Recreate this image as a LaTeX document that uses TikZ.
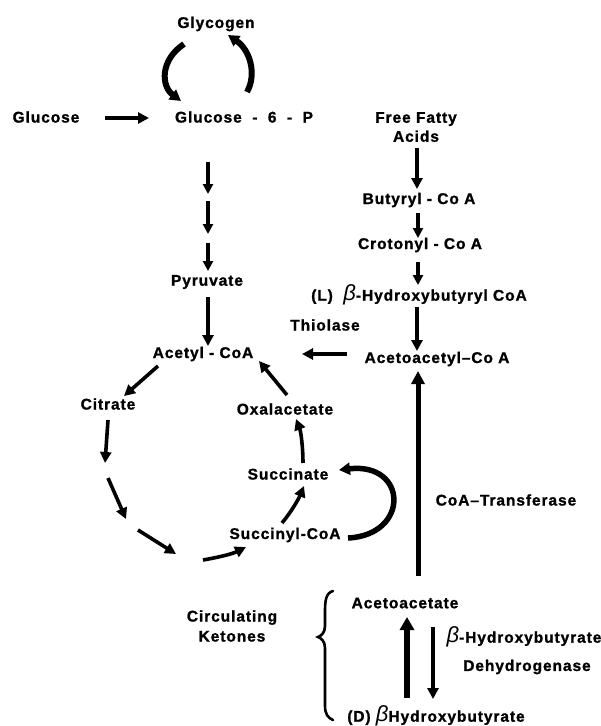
\documentclass[tikz,border=0pt]{standalone}
\usepackage{fontspec}
\setmainfont{Liberation Sans}[LetterSpace=6, BoldFeatures={FakeBold=1.2}]
\usetikzlibrary{arrows.meta}
\newcommand{\bigbeta}{{\fontsize{22}{22}\selectfont\itshape\mdseries β}}
\begin{document}
\begin{tikzpicture}[x=1pt,y=-1pt,
  lbl/.style={inner sep=0pt, font=\fontsize{15.5}{17}\selectfont\bfseries, align=center},
  arr/.style={line width=3.6pt, -{Triangle[length=11pt,width=11pt]}},
  arrthin/.style={line width=3.2pt, -{Triangle[length=10pt,width=10pt]}},
  arrbig/.style={line width=5pt, -{Triangle[length=13pt,width=13pt]}},
  curvy/.style={line width=6pt, -{Triangle[length=11pt,width=12pt]}},
  bracestyle/.style={line width=2.6pt, line cap=round}]
\useasboundingbox (0,0) rectangle (601,726);
% nodes
\node[lbl] (glycogen) at (216,24) {Glycogen};
\node[lbl] (glucose) at (46,117) {Glucose};
\node[lbl] (g6p) at (244,117) {Glucose\ \ -\ \ 6\ \ -\ \ P};
\node[lbl] (pyr) at (207,282) {Pyruvate};
\node[lbl] (acetyl) at (203,354) {Acetyl - CoA};
\node[lbl] (citrate) at (108,404) {Citrate};
\node[lbl] (oxal) at (285,409) {Oxalacetate};
\node[lbl] (succinate) at (288,474) {Succinate};
\node[lbl] (succinyl) at (285,535) {Succinyl-CoA};
\node[lbl] (ffa) at (416,127) {Free Fatty\\[2pt]Acids};
\node[lbl] (butyryl) at (419,200) {Butyryl - Co A};
\node[lbl] (crotonyl) at (420,245) {Crotonyl - Co A};
\node[lbl] (lhb) at (419,295) {(L)\ \ \bigbeta-Hydroxybutyryl CoA};
\node[lbl] (thiolase) at (325,325) {Thiolase};
\node[lbl] (acacoa) at (437,359) {Acetoacetyl–Co A};
\node[lbl] (coat) at (506,500) {CoA–Transferase};
\node[lbl] (circ) at (232,626) {Circulating\\[3pt]Ketones};
\node[lbl] (acac) at (405,603) {Acetoacetate};
\node[lbl] (bhbdh) at (524,637) {\bigbeta-Hydroxybutyrate};
\node[lbl] (dehyd) at (527,667) {Dehydrogenase};
\node[lbl] (dbhb) at (436,716) {(D) \bigbeta Hydroxybutyrate};
% connector end points
\coordinate (c1a) at (105,118); \coordinate (c1b) at (149,118);
\coordinate (gl1a) at (184,44); \coordinate (gl1b) at (181,101);
\coordinate (gl2a) at (247,92); \coordinate (gl2b) at (228,35);
\coordinate (d1a) at (208,162); \coordinate (d1b) at (208,194);
\coordinate (d2a) at (208,201); \coordinate (d2b) at (208,234);
\coordinate (d3a) at (208,243); \coordinate (d3b) at (208,271);
\coordinate (p1a) at (208,297); \coordinate (p1b) at (208,346);
\coordinate (k1a) at (158,366); \coordinate (k1b) at (124,396);
\coordinate (k2a) at (108,420); \coordinate (k2b) at (105,463);
\coordinate (k3a) at (108,478); \coordinate (k3b) at (126,519);
\coordinate (k4a) at (138,530); \coordinate (k4b) at (176,554);
\coordinate (k5a) at (203,560); \coordinate (k5b) at (246,547);
\coordinate (k6a) at (282,523); \coordinate (k6b) at (304,486);
\coordinate (k7a) at (303,463); \coordinate (k7b) at (296,419);
\coordinate (k8a) at (287,395); \coordinate (k8b) at (259,361);
\coordinate (lpa) at (348,538); \coordinate (lpb) at (339,470);
\coordinate (t1a) at (347,354); \coordinate (t1b) at (302,354);
\coordinate (f1a) at (417,148); \coordinate (f1b) at (417,189);
\coordinate (f2a) at (418,213); \coordinate (f2b) at (418,238);
\coordinate (f3a) at (418,262); \coordinate (f3b) at (418,285);
\coordinate (f4a) at (417,307); \coordinate (f4b) at (417,351);
\coordinate (ta) at (418,576); \coordinate (tb) at (418,371);
\coordinate (ua) at (407,698); \coordinate (ub) at (407,617);
\coordinate (va) at (433,627); \coordinate (vb) at (433,699);
% connectors
\draw[line width=4.5pt, -{Triangle[length=11pt,width=11pt]}] (c1a) -- (c1b);
\draw[curvy] (gl1a) .. controls (160,60) and (161,86) .. (gl1b);
\draw[curvy] (gl2a) .. controls (257,74) and (250,50) .. (gl2b);
\draw[arrthin] (d1a) -- (d1b);
\draw[arrthin] (d2a) -- (d2b);
\draw[arrthin] (d3a) -- (d3b);
\draw[arr] (p1a) -- (p1b);
\draw[arr] (k1a) -- (k1b);
\draw[arr] (k2a) -- (k2b);
\draw[arr] (k3a) -- (k3b);
\draw[arr] (k4a) -- (k4b);
\draw[arr] (k5a) .. controls (220,557) and (232,554) .. (k5b);
\draw[arr] (k6a) .. controls (292,511) and (299,498) .. (k6b);
\draw[arr] (k7a) .. controls (303,448) and (301,432) .. (k7b);
\draw[arr] (k8a) -- (k8b);
\draw[line width=5.5pt, -{Triangle[length=11pt,width=12pt]}] (lpa) .. controls (410,535) and (408,462) .. (lpb);
\draw[arr] (t1a) -- (t1b);
\draw[arr] (f1a) -- (f1b);
\draw[arrthin] (f2a) -- (f2b);
\draw[arrthin] (f3a) -- (f3b);
\draw[arr] (f4a) -- (f4b);
\draw[arrbig] (ta) -- (tb);
\draw[line width=6.5pt, -{Triangle[length=13pt,width=14pt]}] (ua) -- (ub);
\draw[line width=4pt, -{Triangle[length=11pt,width=11pt]}] (va) -- (vb);
% brace
\draw[bracestyle] (333,591) .. controls (326,593) and (325,600) .. (325,612) -- (325,626)
  .. controls (325,633) and (321,636) .. (318,637)
  .. controls (321,638) and (325,641) .. (325,648) -- (325,706)
  .. controls (325,714) and (328,718) .. (333,720);
\end{tikzpicture}
\end{document}
